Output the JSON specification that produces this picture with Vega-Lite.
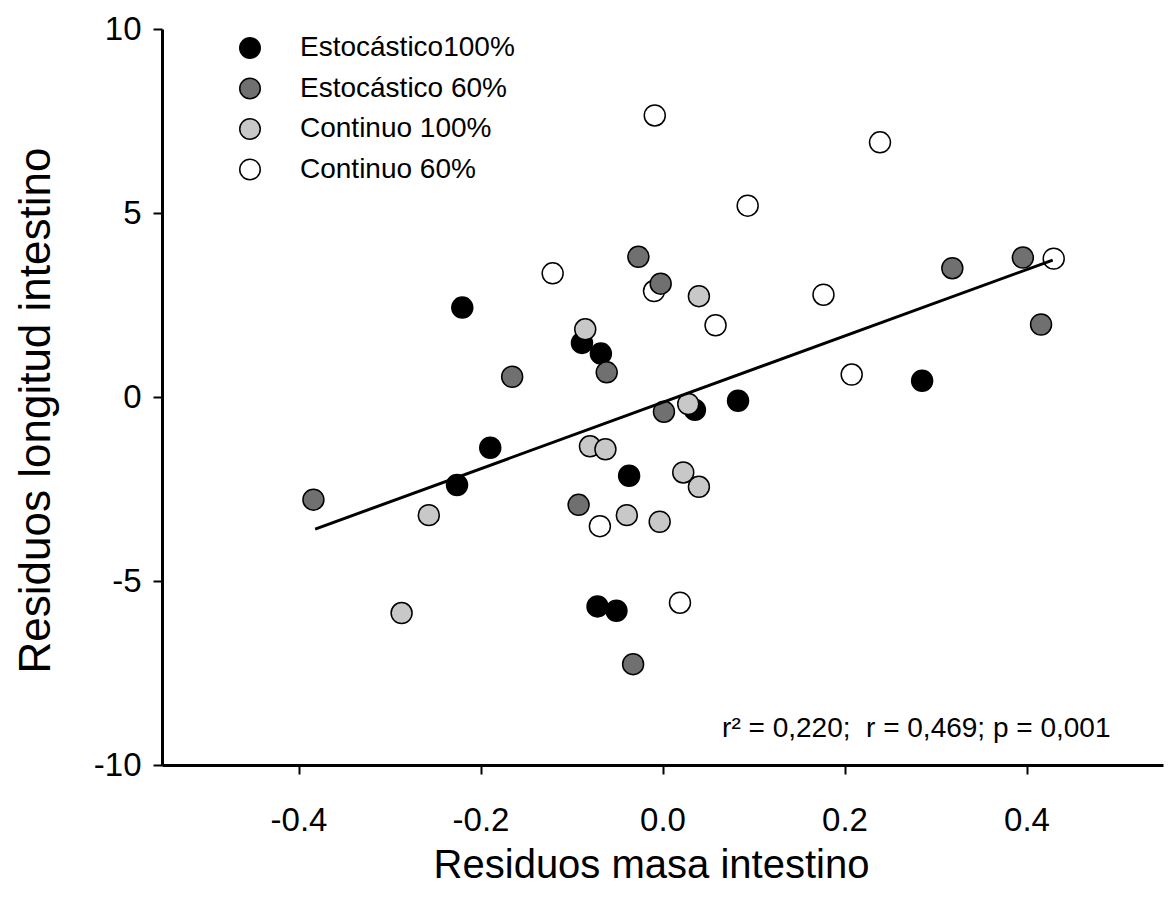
{
  "$schema": "https://vega.github.io/schema/vega-lite/v6.json",
  "width": 1001,
  "height": 736,
  "autosize": {"type": "none"},
  "padding": {"left": 162, "top": 29, "right": 10, "bottom": 134},
  "background": "white",
  "config": {
    "view": {"stroke": null},
    "font": "Liberation Sans",
    "axis": {"grid": false, "domainColor": "black", "domainWidth": 3, "tickColor": "black", "tickWidth": 2, "tickSize": 9, "labelColor": "black", "labelFont": "Liberation Sans", "titleFont": "Liberation Sans", "titleColor": "black", "titleFontWeight": "normal", "labelFlush": false, "labelOverlap": false}
  },
  "datasets": {
    "pts": [
      {"masa": -0.0085, "longitud": 7.65, "grupo": "Continuo 60%"},
      {"masa": 0.239, "longitud": 6.92, "grupo": "Continuo 60%"},
      {"masa": 0.0936, "longitud": 5.2, "grupo": "Continuo 60%"},
      {"masa": -0.1207, "longitud": 3.36, "grupo": "Continuo 60%"},
      {"masa": -0.0093, "longitud": 2.88, "grupo": "Continuo 60%"},
      {"masa": 0.1769, "longitud": 2.78, "grupo": "Continuo 60%"},
      {"masa": 0.0583, "longitud": 1.95, "grupo": "Continuo 60%"},
      {"masa": 0.2079, "longitud": 0.61, "grupo": "Continuo 60%"},
      {"masa": 0.4299, "longitud": 3.76, "grupo": "Continuo 60%"},
      {"masa": -0.0688, "longitud": -3.51, "grupo": "Continuo 60%"},
      {"masa": 0.0192, "longitud": -5.59, "grupo": "Continuo 60%"},
      {"masa": -0.22, "longitud": 2.43, "grupo": "Estocástico100%"},
      {"masa": -0.0885, "longitud": 1.47, "grupo": "Estocástico100%"},
      {"masa": -0.0677, "longitud": 1.18, "grupo": "Estocástico100%"},
      {"masa": 0.0356, "longitud": -0.35, "grupo": "Estocástico100%"},
      {"masa": 0.083, "longitud": -0.1, "grupo": "Estocástico100%"},
      {"masa": 0.2853, "longitud": 0.44, "grupo": "Estocástico100%"},
      {"masa": -0.1893, "longitud": -1.38, "grupo": "Estocástico100%"},
      {"masa": -0.0367, "longitud": -2.14, "grupo": "Estocástico100%"},
      {"masa": -0.2258, "longitud": -2.39, "grupo": "Estocástico100%"},
      {"masa": -0.0714, "longitud": -5.69, "grupo": "Estocástico100%"},
      {"masa": -0.0506, "longitud": -5.81, "grupo": "Estocástico100%"},
      {"masa": -0.0265, "longitud": 3.81, "grupo": "Estocástico 60%"},
      {"masa": -0.002, "longitud": 3.08, "grupo": "Estocástico 60%"},
      {"masa": -0.0613, "longitud": 0.67, "grupo": "Estocástico 60%"},
      {"masa": -0.1652, "longitud": 0.55, "grupo": "Estocástico 60%"},
      {"masa": 0.0016, "longitud": -0.4, "grupo": "Estocástico 60%"},
      {"masa": -0.3836, "longitud": -2.79, "grupo": "Estocástico 60%"},
      {"masa": -0.0922, "longitud": -2.93, "grupo": "Estocástico 60%"},
      {"masa": -0.0323, "longitud": -7.26, "grupo": "Estocástico 60%"},
      {"masa": 0.3185, "longitud": 3.5, "grupo": "Estocástico 60%"},
      {"masa": 0.396, "longitud": 3.79, "grupo": "Estocástico 60%"},
      {"masa": 0.416, "longitud": 1.97, "grupo": "Estocástico 60%"},
      {"masa": 0.04, "longitud": 2.74, "grupo": "Continuo 100%"},
      {"masa": -0.0849, "longitud": 1.84, "grupo": "Continuo 100%"},
      {"masa": 0.0283, "longitud": -0.19, "grupo": "Continuo 100%"},
      {"masa": -0.0797, "longitud": -1.34, "grupo": "Continuo 100%"},
      {"masa": -0.0627, "longitud": -1.42, "grupo": "Continuo 100%"},
      {"masa": 0.0228, "longitud": -2.05, "grupo": "Continuo 100%"},
      {"masa": 0.04, "longitud": -2.44, "grupo": "Continuo 100%"},
      {"masa": -0.2568, "longitud": -3.21, "grupo": "Continuo 100%"},
      {"masa": -0.0392, "longitud": -3.21, "grupo": "Continuo 100%"},
      {"masa": -0.0031, "longitud": -3.39, "grupo": "Continuo 100%"},
      {"masa": -0.2867, "longitud": -5.87, "grupo": "Continuo 100%"}
    ],
    "fit": [
      {"masa": -0.3817, "longitud": -3.59},
      {"masa": 0.4288, "longitud": 3.72}
    ],
    "note": [
      {"masa": 0.4923, "longitud": -9.25, "label": "r² = 0,220;\u00a0\u00a0r = 0,469; p = 0,001"}
    ]
  },
  "layer": [
    {
      "data": {"name": "pts"},
      "mark": {"type": "point", "shape": "circle", "filled": true, "size": 440, "stroke": "black", "strokeWidth": 1.5, "opacity": 1},
      "encoding": {
        "x": {
          "field": "masa", "type": "quantitative",
          "scale": {"domain": [-0.55, 0.55], "nice": false, "zero": false},
          "axis": {
            "values": [-0.4, -0.2, 0, 0.2, 0.4], "format": ".1f",
            "labelExpr": "replace(datum.label, '−', '-')",
            "labelFontSize": 33, "labelBaseline": "alphabetic", "labelPadding": 56,
            "title": "Residuos masa intestino", "titleFontSize": 40,
            "titleX": 489, "titleY": 112, "titleAlign": "center", "titleBaseline": "alphabetic"
          }
        },
        "y": {
          "field": "longitud", "type": "quantitative",
          "scale": {"domain": [-10, 10], "nice": false, "zero": false},
          "axis": {
            "values": [-10, -5, 0, 5, 10], "format": "d",
            "labelExpr": "replace(datum.label, '−', '-')",
            "labelFontSize": 33, "labelPadding": 12,
            "title": "Residuos longitud intestino", "titleFontSize": 44,
            "titleAngle": -90, "titleX": -113, "titleY": 381, "titleAlign": "center", "titleBaseline": "alphabetic"
          }
        },
        "fill": {
          "field": "grupo", "type": "nominal",
          "scale": {"domain": ["Estocástico100%", "Estocástico 60%", "Continuo 100%", "Continuo 60%"], "range": ["#000000", "#707070", "#c8c8c8", "#ffffff"]},
          "legend": {
            "orient": "none", "legendX": 74, "legendY": 5, "title": null, "padding": 0,
            "labelFontSize": 28, "labelColor": "black", "labelFont": "Liberation Sans", "labelLimit": 0,
            "symbolType": "circle", "symbolSize": 420, "symbolStrokeColor": "black", "symbolStrokeWidth": 1.5, "symbolOpacity": 1,
            "rowPadding": 12.5, "labelOffset": 36
          }
        }
      }
    },
    {
      "data": {"name": "fit"},
      "mark": {"type": "line", "color": "black", "strokeWidth": 3},
      "encoding": {
        "x": {"field": "masa", "type": "quantitative"},
        "y": {"field": "longitud", "type": "quantitative"}
      }
    },
    {
      "data": {"name": "note"},
      "mark": {"type": "text", "align": "right", "baseline": "alphabetic", "fontSize": 28, "color": "black", "font": "Liberation Sans"},
      "encoding": {
        "x": {"field": "masa", "type": "quantitative"},
        "y": {"field": "longitud", "type": "quantitative"},
        "text": {"field": "label"}
      }
    }
  ]
}
